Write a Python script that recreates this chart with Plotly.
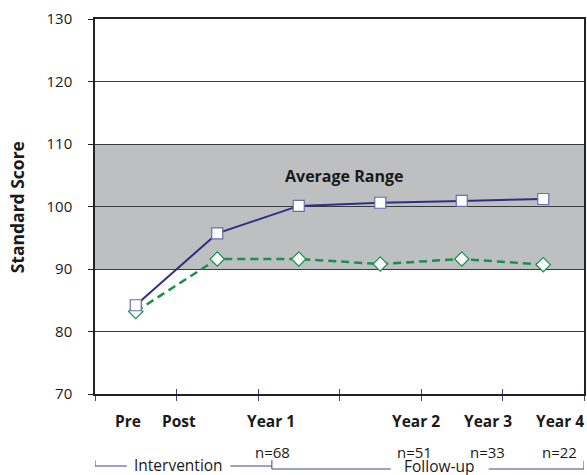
import plotly.graph_objects as go

# ---- data ----
timepoints = ["Pre", "Post", "Year 1", "Year 2", "Year 3", "Year 4"]
n_labels = ["", "", "n=68", "n=51", "n=33", "n=22"]
group_a = [84.2, 95.7, 100.1, 100.6, 100.9, 101.2]   # solid navy, squares
group_b = [83.2, 91.6, 91.6, 90.8, 91.6, 90.7]       # dashed green, diamonds
avg_low, avg_high = 90, 110
y_ticks = [70, 80, 90, 100, 110, 120, 130]

# positions (layout only)
point_x = [0.5, 1.5, 2.5, 3.5, 4.5, 5.5]
label_x = [0.40, 1.03, 2.16, 3.94, 4.82, 5.70]
n_x = [0.40, 1.03, 2.18, 3.92, 4.82, 5.70]

W, H = 587, 475
L, R, T, B = 95, 1, 19, 81
plot_h = H - T - B


def py(pix):
    return (H - B - pix) / plot_h


FONT = "Open Sans"
TXT = "#1a1a1a"
NAVY = "#2e3085"
GREEN = "#16924a"
BRACKET = "#3b4686"

fig = go.Figure()

fig.add_trace(go.Scatter(
    x=point_x, y=group_b, mode="lines+markers",
    line=dict(color=GREEN, width=2.5, dash="8px,5px"),
    marker=dict(symbol="diamond", size=11, color="white",
                line=dict(color=GREEN, width=1.2)),
    showlegend=False, hoverinfo="skip"))

fig.add_trace(go.Scatter(
    x=point_x, y=group_a, mode="lines+markers",
    line=dict(color=NAVY, width=2),
    marker=dict(symbol="square", size=11, color="white",
                line=dict(color="#6a6cae", width=1.2)),
    showlegend=False, hoverinfo="skip"))

# invisible trace for overlay axis (inside ticks)
fig.add_trace(go.Scatter(x=[0, 6], y=[70, 70], xaxis="x2", mode="none",
                         showlegend=False, hoverinfo="skip"))

shapes = [
    dict(type="rect", xref="x", yref="y", x0=0, x1=6, y0=avg_low, y1=avg_high,
         fillcolor="#bebfc1", line=dict(width=0), layer="below"),
]


def seg(x0, x1, y0, y1):
    return dict(type="line", xref="x", yref="paper", x0=x0, x1=x1, y0=py(y0), y1=py(y1),
                line=dict(color=BRACKET, width=1))


# brackets under the axis
shapes += [
    seg(0, 0, 460.5, 466),
    seg(0, 0.39, 466, 466),
    seg(1.66, 2.17, 466, 466),
    seg(2.17, 2.17, 460, 469),
    seg(2.17, 3.63, 469, 469),
    seg(4.83, 6, 469, 469),
    seg(6, 6, 461, 469),
]

annotations = [
    dict(text="<b>Average Range</b>", x=3.05, y=104.9, xref="x", yref="y",
         showarrow=False, xanchor="center", yanchor="middle",
         font=dict(family=FONT, size=16, color=TXT)),
    dict(text="<b>Standard Score</b>", x=(17 - L) / (W - L - R), y=py(207),
         xref="paper", yref="paper", showarrow=False, textangle=-90,
         xanchor="center", yanchor="middle",
         font=dict(family=FONT, size=17.5, color=TXT)),
    dict(text="Intervention", x=1.02, y=py(465), xref="x", yref="paper",
         showarrow=False, xanchor="center", yanchor="middle",
         font=dict(family=FONT, size=15.5, color=TXT)),
    dict(text="Follow-up", x=4.22, y=py(466), xref="x", yref="paper",
         showarrow=False, xanchor="center", yanchor="middle",
         font=dict(family=FONT, size=15.5, color=TXT)),
]

for lbl, lx in zip(timepoints, label_x):
    annotations.append(dict(text=f"<b>{lbl}</b>", x=lx, y=py(420.5), xref="x", yref="paper",
                            showarrow=False, xanchor="center", yanchor="middle",
                            font=dict(family=FONT, size=15.5, color=TXT)))
for lbl, lx in zip(n_labels, n_x):
    if lbl:
        annotations.append(dict(text=lbl, x=lx, y=py(451.5), xref="x", yref="paper",
                                showarrow=False, xanchor="center", yanchor="middle",
                                font=dict(family=FONT, size=15, color=TXT)))

fig.update_layout(
    width=W, height=H,
    margin=dict(l=L, r=R, t=T, b=B),
    paper_bgcolor="white", plot_bgcolor="white",
    shapes=shapes, annotations=annotations,
    xaxis=dict(range=[0, 6], tickvals=[0, 1, 2, 3, 4, 5, 6], showticklabels=False,
               ticks="outside", ticklen=5, tickcolor=BRACKET, tickwidth=1,
               showline=True, linecolor="#222", linewidth=1.5, mirror=True,
               showgrid=False, zeroline=False, fixedrange=True),
    xaxis2=dict(range=[0, 6], overlaying="x", side="bottom", anchor="y",
                tickvals=[0, 1, 2, 3, 4, 5, 6], showticklabels=False,
                ticks="inside", ticklen=5, tickcolor=BRACKET, tickwidth=1,
                showline=False, showgrid=False, zeroline=False),
    yaxis=dict(range=[70, 130], tickvals=y_ticks, ticks="outside", ticklen=5,
               tickcolor="#222", tickwidth=1, ticklabelstandoff=13,
               tickfont=dict(family=FONT, size=15, color=TXT),
               showline=True, linecolor="#222", linewidth=1.5, mirror=True,
               showgrid=True, gridcolor="#3a3a3a", gridwidth=1, zeroline=False),
)

fig.write_html("out.html", config={"displayModeBar": False},
               post_script="document.body.style.margin='0px';document.body.style.padding='0px';")
